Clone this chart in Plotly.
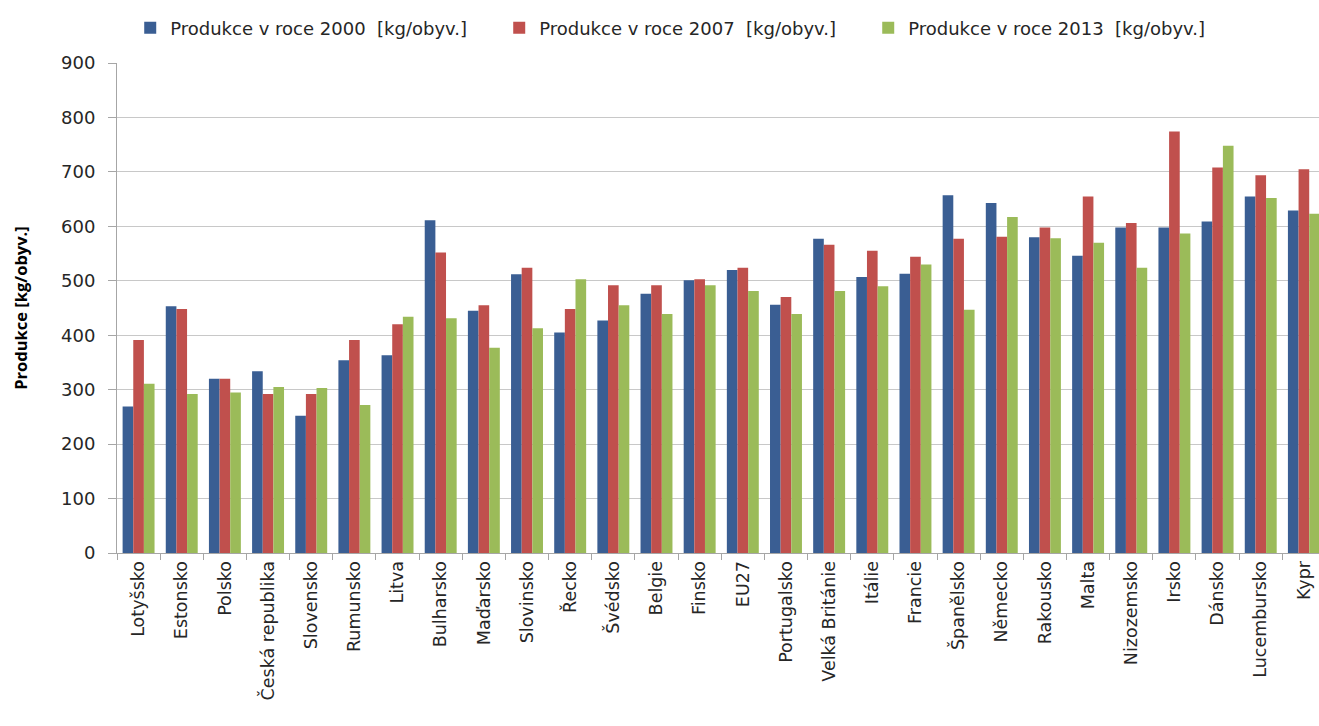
import plotly.graph_objects as go

countries = [
    "Lotyšsko", "Estonsko", "Polsko", "Česká republika", "Slovensko", "Rumunsko",
    "Litva", "Bulharsko", "Maďarsko", "Slovinsko", "Řecko", "Švédsko", "Belgie",
    "Finsko", "EU27", "Portugalsko", "Velká Británie", "Itálie", "Francie",
    "Španělsko", "Německo", "Rakousko", "Malta", "Nizozemsko", "Irsko", "Dánsko",
    "Lucembursko", "Kypr",
]

prod_2000 = [269, 453, 320, 334, 252, 354, 363, 611, 445, 512, 405, 427, 476, 501,
             520, 456, 577, 507, 513, 657, 643, 580, 546, 598, 598, 609, 655, 629]
prod_2007 = [391, 448, 320, 292, 292, 391, 420, 552, 455, 524, 448, 492, 492, 503,
             524, 470, 566, 555, 544, 577, 581, 598, 655, 606, 774, 708, 694, 705]
prod_2013 = [311, 292, 295, 305, 303, 272, 434, 431, 377, 413, 503, 455, 439, 492,
             481, 439, 481, 490, 530, 447, 617, 578, 570, 524, 587, 748, 652, 623]

series_names = [
    "Produkce v roce 2000  [kg/obyv.]",
    "Produkce v roce 2007  [kg/obyv.]",
    "Produkce v roce 2013  [kg/obyv.]",
]
colors = ["#3A5E93", "#C0504D", "#9BBB59"]

FONT = "DejaVu Sans"
TEXT = "#262626"

fig = go.Figure()
for name, vals, col in zip(series_names, [prod_2000, prod_2007, prod_2013], colors):
    fig.add_trace(go.Bar(x=countries, y=vals, name=name, marker_color=col,
                         marker_line_width=0))

fig.update_layout(
    width=1319, height=726,
    margin=dict(l=117, r=0, t=63, b=173),
    paper_bgcolor="white", plot_bgcolor="white",
    barmode="group", bargap=0.26, bargroupgap=0,
    font=dict(family=FONT, color=TEXT),
    legend=dict(
        orientation="h", x=0.011, xanchor="left", y=1.109, yanchor="top",
        font=dict(size=18, family=FONT, color=TEXT), itemwidth=30,
        entrywidth=324,
    ),
    showlegend=True,
)

fig.update_xaxes(
    type="category",
    range=[-0.5, 27.35],
    tickangle=-90,
    tickfont=dict(size=17.5, family=FONT, color=TEXT),
    showline=True, linecolor="#A6A6A6", linewidth=1,
    ticks="outside", tickson="boundaries", ticklen=6, tickcolor="#A6A6A6",
    showgrid=False,
)
fig.update_yaxes(
    range=[0, 900], dtick=100,
    tickfont=dict(size=18, family=FONT, color=TEXT),
    showline=True, linecolor="#A6A6A6", linewidth=1,
    ticks="outside", ticklen=8, tickcolor="#A6A6A6", ticklabelstandoff=9,
    showgrid=True, gridcolor="#C8C8C8", gridwidth=1,
    zeroline=False,
    title=dict(text="<b>Produkce [kg/obyv.]</b>",
               font=dict(size=16.5, family="Open Sans", color="#000000"),
               standoff=29),
)

fig.write_html("out.html")
